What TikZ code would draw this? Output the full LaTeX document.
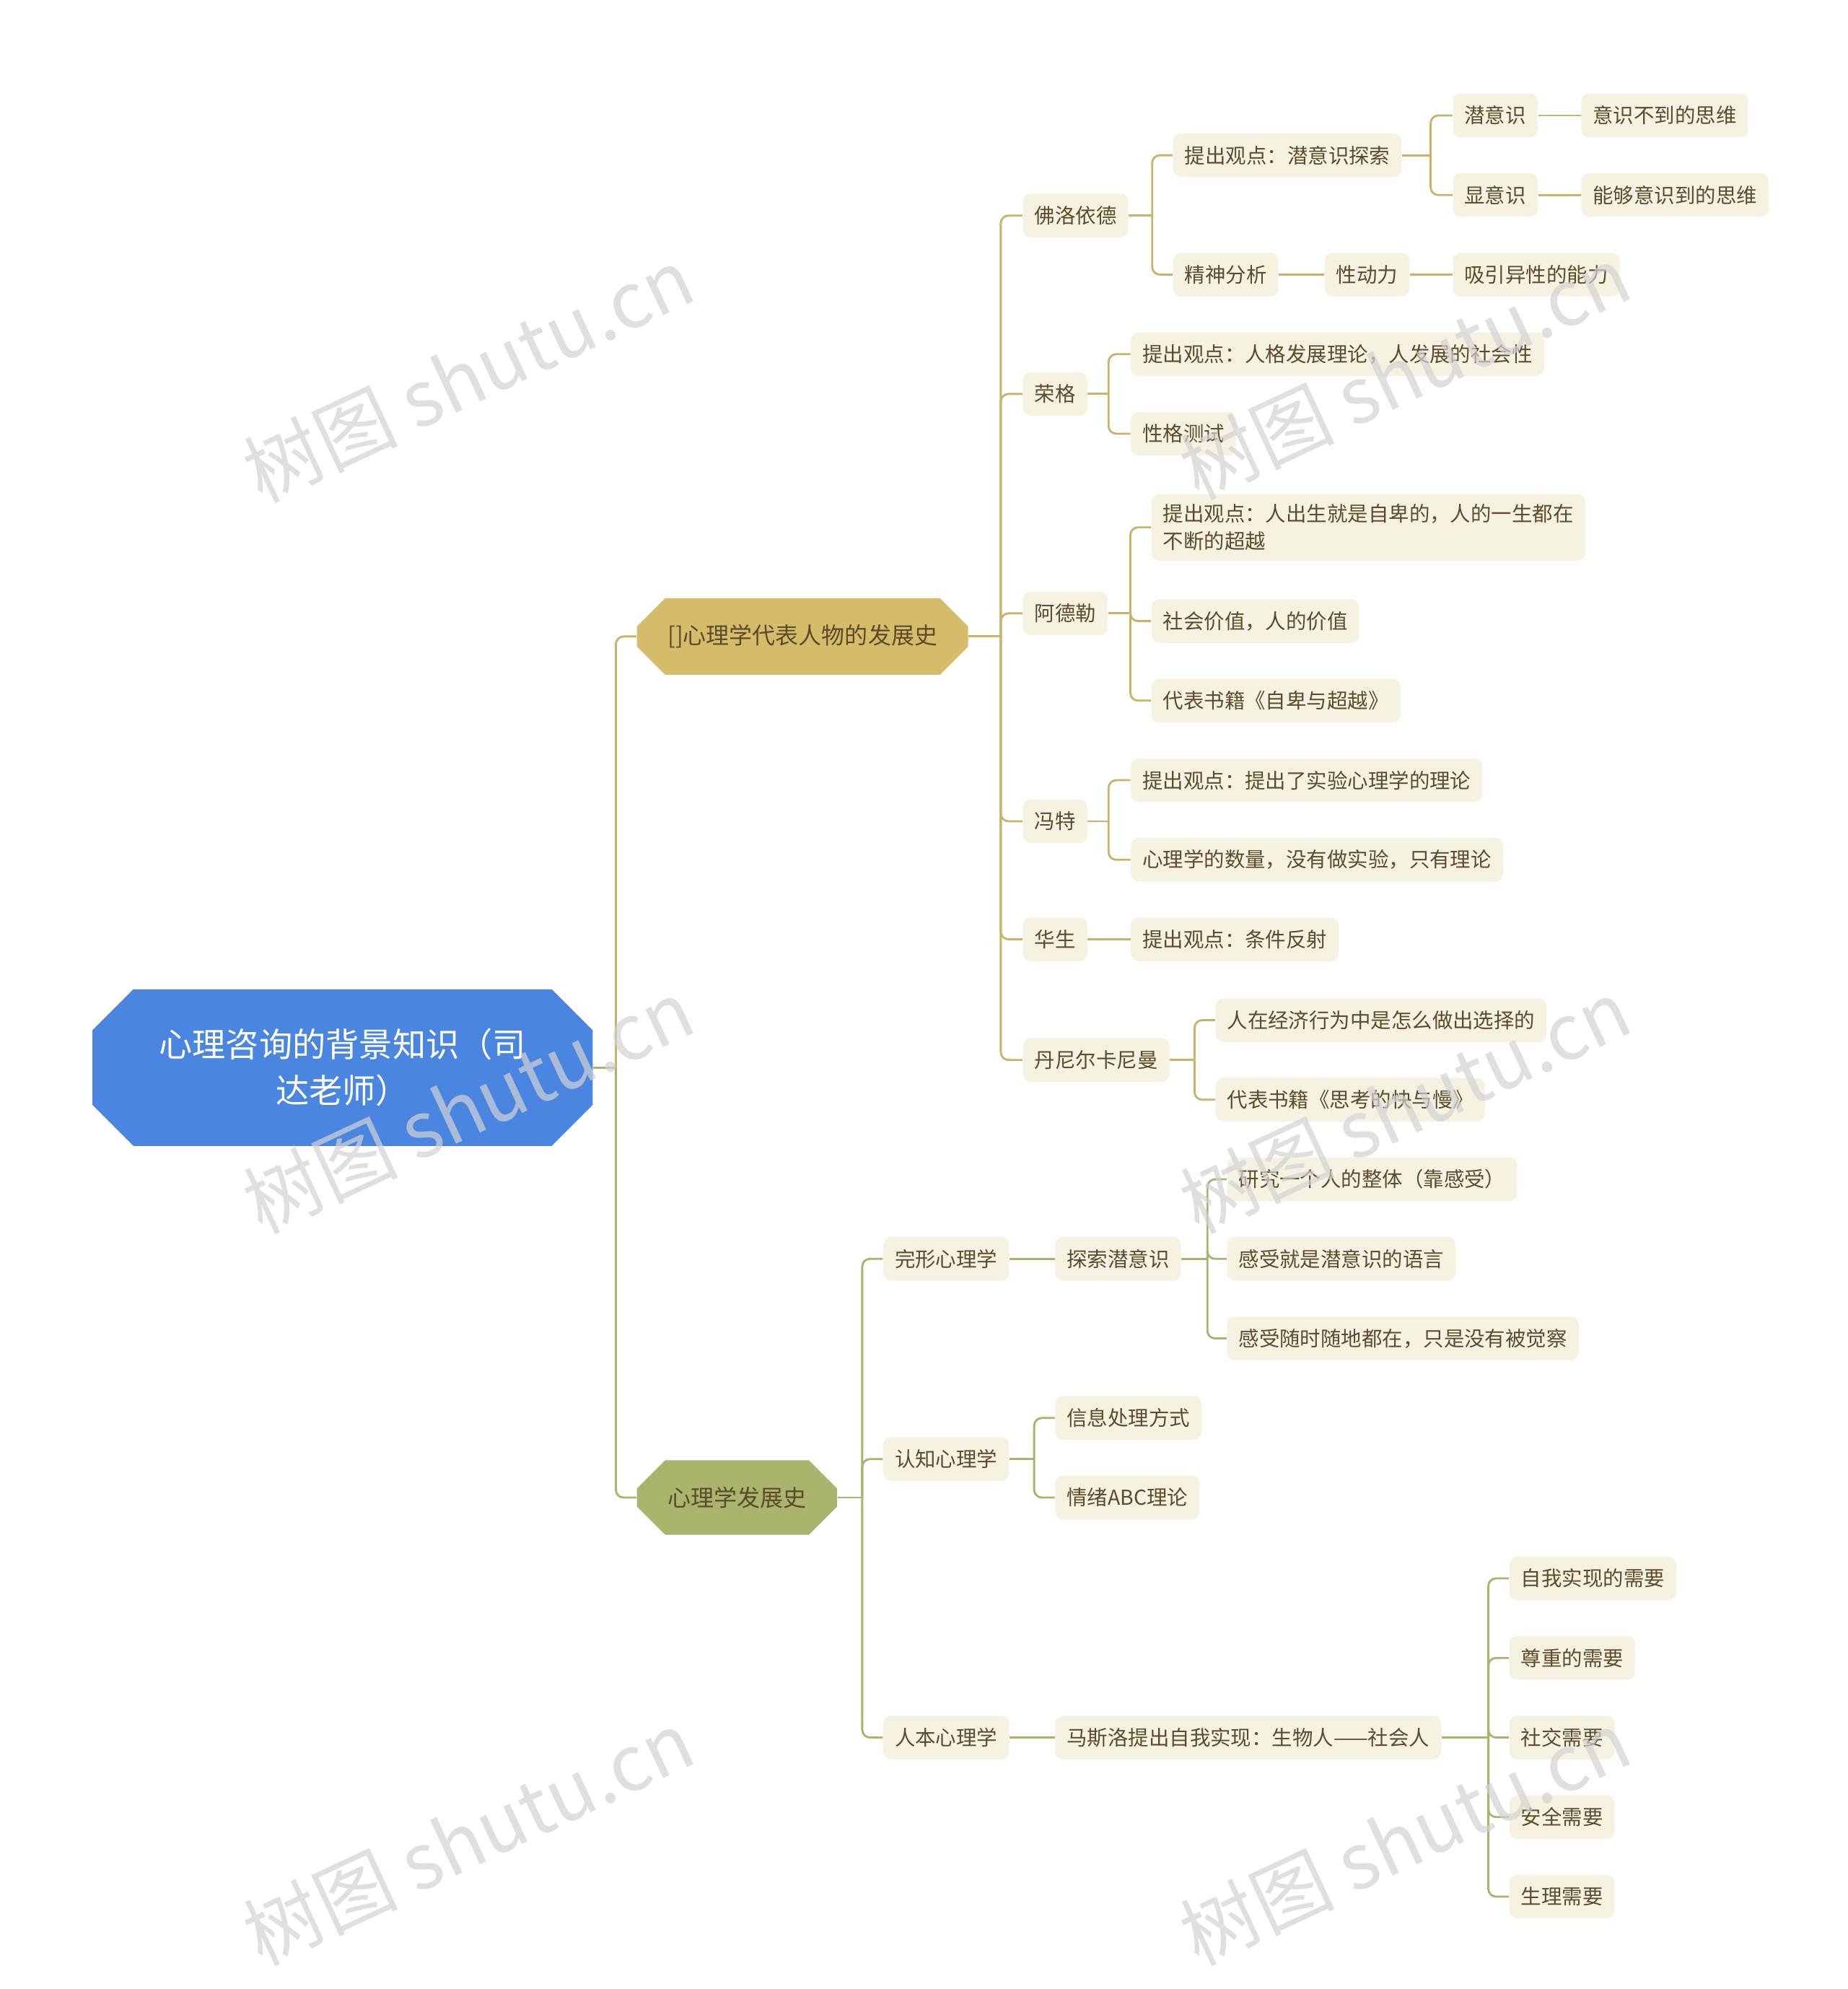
\documentclass[tikz,border=0pt]{standalone}
\usepackage{fontspec}
\setmainfont{Noto Sans CJK SC}
\usetikzlibrary{shapes.misc}
\definecolor{leaffill}{HTML}{F6F2E2}
\definecolor{leaftext}{HTML}{5C4B2B}
\definecolor{goldl}{HTML}{C8B36A}
\definecolor{greenl}{HTML}{AAB26E}
\definecolor{rootc}{HTML}{4A86E0}
\definecolor{b1}{HTML}{D4BC6A}
\definecolor{b2}{HTML}{AAB46C}
\tikzset{
 leaf/.style={fill=leaffill,rounded corners=3pt,text=leaftext,font=\fontsize{8}{10.5}\selectfont,inner xsep=4.5pt,minimum height=17pt,anchor=west},
 hexa/.style={chamfered rectangle,chamfered rectangle xsep=4pt,chamfered rectangle ysep=7pt,text=leaftext,font=\fontsize{9}{12}\selectfont,minimum height=24pt,inner xsep=8pt,anchor=west},
 gl/.style={draw=goldl,line width=0.8pt,rounded corners=3pt},
 grl/.style={draw=greenl,line width=0.8pt,rounded corners=3pt},
 wm/.style={text=gray!35,opacity=0.7,font=\fontsize{30}{30}\selectfont,rotate=25}
}
\newcommand\lk[4]{\draw[#1] (#2.east) -- (#2.east -| #3); \draw[#1] (#2.east -| #3) |- (#4.west);}
\newcommand\ls[3]{\draw[#1] (#2.east) -- (#3.west);}
\begin{document}
\begin{tikzpicture}[x=0.5pt,y=-0.5pt]
\useasboundingbox (0,0) rectangle (1440,1550);
\fill[white] (0,0) rectangle (1440,1550);
% root
\node[chamfered rectangle,chamfered rectangle xsep=4pt,chamfered rectangle ysep=12pt,fill=rootc,text=white,font=\fontsize{13}{18}\selectfont,minimum width=195pt,minimum height=52pt,align=center] (root) at (267,832) {心理咨询的背景知识（司\\达老师）};
\node[hexa,fill=b1] (B1) at (496,496) {[]心理学代表人物的发展史};
\node[hexa,fill=b2] (B2) at (496,1167) {心理学发展史};
\coordinate (s0) at (480,0);
\lk{gl}{root}{s0}{B1}
\lk{grl}{root}{s0}{B2}
% branch 1
\node[leaf] (f) at (797,168) {佛洛依德};
\node[leaf] (r) at (797,307) {荣格};
\node[leaf] (a) at (797,478) {阿德勒};
\node[leaf] (w) at (797,640) {冯特};
\node[leaf] (h) at (797,732) {华生};
\node[leaf] (d) at (797,826) {丹尼尔卡尼曼};
\coordinate (s1) at (780,0);
\foreach \c in {f,r,a,w,h,d}{\lk{gl}{B1}{s1}{\c}}
\node[leaf] (f1) at (914,121) {提出观点：潜意识探索};
\node[leaf] (f2) at (914,214) {精神分析};
\coordinate (s2) at (898,0);
\lk{gl}{f}{s2}{f1}\lk{gl}{f}{s2}{f2}
\node[leaf] (f11) at (1132,90) {潜意识};
\node[leaf] (f12) at (1132,152) {显意识};
\coordinate (s3) at (1115,0);
\lk{gl}{f1}{s3}{f11}\lk{gl}{f1}{s3}{f12}
\node[leaf] (f111) at (1232,90) {意识不到的思维};
\node[leaf] (f121) at (1232,152) {能够意识到的思维};
\ls{gl}{f11}{f111}\ls{gl}{f12}{f121}
\node[leaf] (f21) at (1032,214) {性动力};
\node[leaf] (f211) at (1132,214) {吸引异性的能力};
\ls{gl}{f2}{f21}\ls{gl}{f21}{f211}
\coordinate (s6) at (864,0);
\node[leaf] (r1) at (881,276) {提出观点：人格发展理论，人发展的社会性};
\node[leaf] (r2) at (881,338) {性格测试};
\lk{gl}{r}{s6}{r1}\lk{gl}{r}{s6}{r2}
\coordinate (s7) at (881,0);
\node[leaf,align=left,inner ysep=4pt] (a1) at (897,411) {提出观点：人出生就是自卑的，人的一生都在\\不断的超越};
\node[leaf] (a2) at (897,484) {社会价值，人的价值};
\node[leaf] (a3) at (897,546) {代表书籍《自卑与超越》};
\lk{gl}{a}{s7}{a1}\lk{gl}{a}{s7}{a2}\lk{gl}{a}{s7}{a3}
\node[leaf] (w1) at (881,608) {提出观点：提出了实验心理学的理论};
\node[leaf] (w2) at (881,670) {心理学的数量，没有做实验，只有理论};
\lk{gl}{w}{s6}{w1}\lk{gl}{w}{s6}{w2}
\node[leaf] (h1) at (881,732) {提出观点：条件反射};
\ls{gl}{h}{h1}
\coordinate (s8) at (931,0);
\node[leaf] (d1) at (947,795) {人在经济行为中是怎么做出选择的};
\node[leaf] (d2) at (947,857) {代表书籍《思考的快与慢》};
\lk{gl}{d}{s8}{d1}\lk{gl}{d}{s8}{d2}
% branch 2
\coordinate (t1) at (672,0);
\node[leaf] (g) at (688,981) {完形心理学};
\node[leaf] (c) at (688,1137) {认知心理学};
\node[leaf] (p) at (688,1354) {人本心理学};
\foreach \c in {g,c,p}{\lk{grl}{B2}{t1}{\c}}
\coordinate (t2) at (806,0);
\node[leaf] (g1) at (822,981) {探索潜意识};
\ls{grl}{g}{g1}
\coordinate (t3) at (941,0);
\node[leaf] (g11) at (956,919) {研究一个人的整体（靠感受）};
\node[leaf] (g12) at (956,981) {感受就是潜意识的语言};
\node[leaf] (g13) at (956,1043) {感受随时随地都在，只是没有被觉察};
\lk{grl}{g1}{t3}{g11}\lk{grl}{g1}{t3}{g12}\lk{grl}{g1}{t3}{g13}
\node[leaf] (c1) at (822,1105) {信息处理方式};
\node[leaf] (c2) at (822,1167) {情绪ABC理论};
\lk{grl}{c}{t2}{c1}\lk{grl}{c}{t2}{c2}
\node[leaf] (p1) at (822,1354) {马斯洛提出自我实现：生物人——社会人};
\ls{grl}{p}{p1}
\coordinate (t4) at (1160,0);
\node[leaf] (n1) at (1176,1230) {自我实现的需要};
\node[leaf] (n2) at (1176,1292) {尊重的需要};
\node[leaf] (n3) at (1176,1354) {社交需要};
\node[leaf] (n4) at (1176,1416) {安全需要};
\node[leaf] (n5) at (1176,1478) {生理需要};
\foreach \c in {n1,n2,n3,n4,n5}{\lk{grl}{p1}{t4}{\c}}
% watermarks
\foreach \x/\y in {365/292,365/862,365/1432,1095/290,1095/862,1095/1432}{\node[wm] at (\x,\y) {树图 shutu.cn};}
\end{tikzpicture}
\end{document}
